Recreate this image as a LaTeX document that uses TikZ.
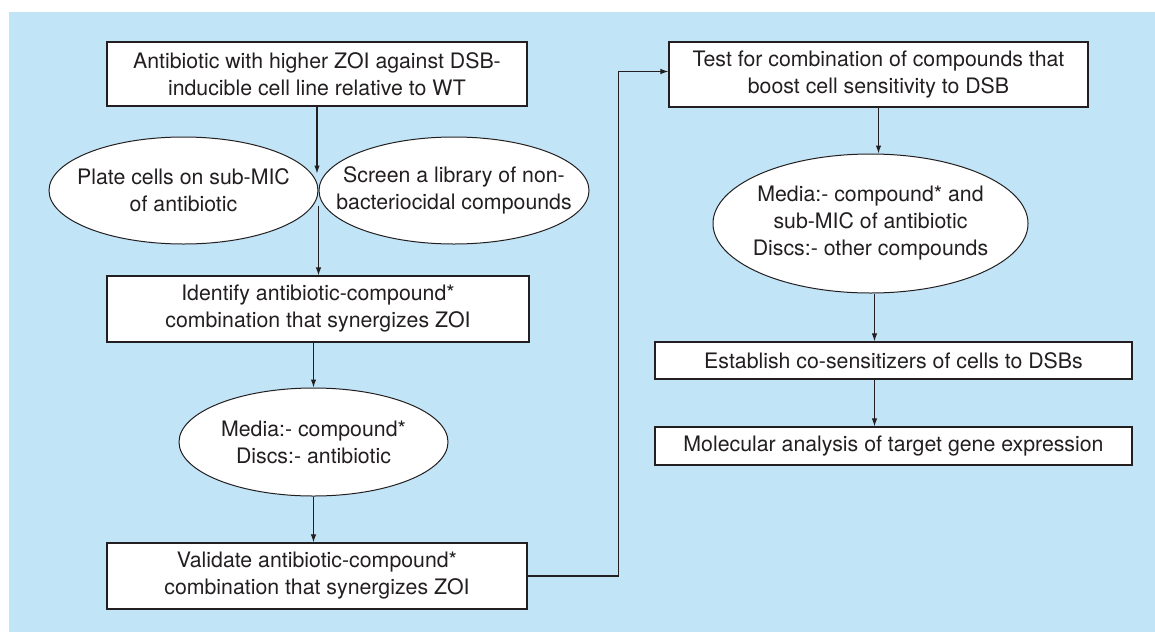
\documentclass[tikz,border=0pt]{standalone}
\usepackage{fontspec}
\setmainfont{TeX Gyre Heros}
\usetikzlibrary{shapes.geometric,arrows.meta}
\definecolor{panelblue}{RGB}{193,228,246}
\definecolor{ink}{RGB}{35,31,32}
\tikzset{
stepbox/.style={
	draw=ink,line width=1.2pt,fill=white,text=ink,
	  inner sep=0pt,align=center},
oval/.style={
	ellipse,draw=ink,line width=1pt,fill=white,text=ink,
	  inner ysep=0pt,inner xsep=-30pt,align=center},
flow/.style={draw=ink,line width=1.1pt,-{Latex[length=8pt,width=5.5pt]}}
}

\begin{document}
\begin{tikzpicture}[x=1pt,y=-1pt,font=\fontsize{21.3}{27}\selectfont]
	\useasboundingbox (0,0) rectangle (1155,632);
	\fill[panelblue] (9,12) rectangle (1155,632);
	\node[stepbox,minimum width=420pt,minimum height=64pt] (abx) at (317,74)
		{Antibiotic with higher ZOI against DSB-\\inducible cell line relative to WT};
	\node[oval,minimum width=269pt,minimum height=107pt] (plate) at (183.5,190.5)
		{Plate cells on sub-MIC\\of antibiotic};
	\node[oval,minimum width=270pt,minimum height=107pt] (screen) at (454,190.5)
		{Screen a library of non-\\bacteriocidal compounds};
	\node[stepbox,minimum width=422pt,minimum height=66pt] (idbox) at (318,309)
		{Identify antibiotic-compound*\\combination that synergizes ZOI};
	\node[oval,minimum width=269pt,minimum height=108pt] (media1) at (313.5,442)
		{Media:- compound*\\Discs:- antibiotic};
	\node[stepbox,minimum width=420pt,minimum height=66pt] (valbox) at (317,576)
		{Validate antibiotic-compound*\\combination that synergizes ZOI};
	\node[stepbox,minimum width=419pt,minimum height=65pt] (testbox) at (878.5,74.5)
		{Test for combination of compounds that\\boost cell sensitivity to DSB};
	\node[oval,minimum width=315pt,minimum height=139pt] (media2) at (870.5,223.5)
		{Media:- compound* and\\sub-MIC of antibiotic\\Discs:- other compounds};
	\node[stepbox,minimum width=477pt,minimum height=37pt] (estbox) at (893.5,360.5)
		{Establish co-sensitizers of cells to DSBs};
	\node[stepbox,minimum width=477pt,minimum height=38pt] (molbox) at (893.5,446)
		{Molecular analysis of target gene expression};
	\coordinate (meetN) at ([yshift=17pt]plate.east);
	\coordinate (meetS) at ([yshift=-15pt]plate.east);
	\coordinate (estout) at ([xshift=4pt]estbox.south -| media2.south);
	\draw[flow] (abx.south) -- (abx.south |- meetN);
	\draw[flow] (meetS) -- (meetS |- idbox.north);
	\draw[flow] (idbox.south -| media1.north) -- (media1.north);
	\draw[flow] (media1.south) -- (media1.south |- valbox.north);
	\draw[flow] (valbox.east) -- ++(91,0) |- ([yshift=3pt]testbox.west);
	\draw[flow] (testbox.south) -- (testbox.south |- media2.north);
	\draw[flow] ([xshift=4pt]media2.south) -- ([xshift=4pt]media2.south |- estbox.north);
	\draw[flow] (estout) -- (estout |- molbox.north);
\end{tikzpicture}
\end{document}
